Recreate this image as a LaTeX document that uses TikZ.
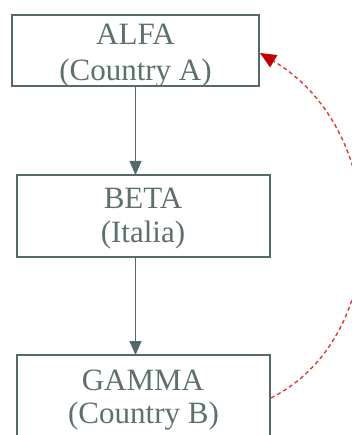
\documentclass[tikz,border=0pt]{standalone}
\usepackage{fontspec}
\setmainfont{Liberation Serif}
\usetikzlibrary{arrows.meta}
\definecolor{boxline}{HTML}{56696A}
\definecolor{txt}{HTML}{5D706D}
\definecolor{redtip}{HTML}{C00000}
\definecolor{reddash}{HTML}{E03A3A}
\tikzset{
  box/.style={draw=boxline, line width=2pt, rectangle, inner sep=0pt},
  lbl/.style={text=txt, font=\fontsize{31}{34}\selectfont, inner sep=0pt, anchor=base},
  flow/.style={draw=boxline, line width=1pt, -{Triangle[length=14pt,width=12pt]}},
  back/.style={draw=reddash, line width=1.4pt, dash pattern=on 4pt off 3pt,
    -{Triangle[length=16pt,width=14pt,color=redtip,fill=redtip]}}
}
\begin{document}
\begin{tikzpicture}[x=1pt,y=-1pt]
\useasboundingbox (0,0) rectangle (352,435);
\clip (0,0) rectangle (352,435);
\node[box, minimum width=247pt, minimum height=71pt] (alfa) at (135.5,50.5) {};
\node[box, minimum width=253pt, minimum height=82pt] (beta) at (143.5,216) {};
\node[box, minimum width=253pt, minimum height=90pt] (gamma) at (143.5,400) {};
\node[lbl] (alfa1) at (135.5,45) {ALFA};
\node[lbl] (alfa2) at (135.5,81) {(Country A)};
\node[lbl] (beta1) at (143,208) {BETA};
\node[lbl] (beta2) at (143,242) {(Italia)};
\node[lbl] (gamma1) at (143,390) {GAMMA};
\node[lbl] (gamma2) at (143.5,423) {(Country B)};
\coordinate (a1) at (135.5,86);
\coordinate (b1) at (135.5,175);
\coordinate (b2) at (135.5,257);
\coordinate (g1) at (135.5,355);
\draw[flow] (a1) -- (b1);
\draw[flow] (b2) -- (g1);
\coordinate (gs) at (271,398);
\coordinate (ae) at (260,53);
\draw[back] (gs) .. controls (393,336) and (392,132) .. (ae);
\end{tikzpicture}
\end{document}
